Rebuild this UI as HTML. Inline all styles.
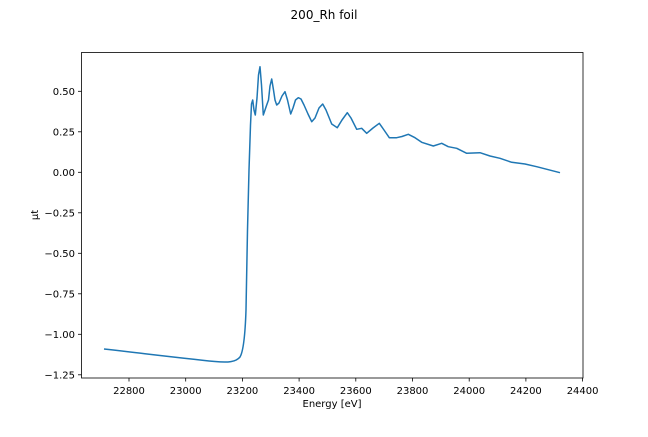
<!DOCTYPE html>
<html><head><meta charset="utf-8"><style>
html,body{margin:0;padding:0;background:#fff}
svg text{font-family:"DejaVu Sans","Liberation Sans",sans-serif;fill:#000}
</style></head><body>
<svg width="648" height="432" viewBox="0 0 648 432" xmlns="http://www.w3.org/2000/svg">
<rect width="648" height="432" fill="#fff"/>
<text x="324" y="19" font-size="12" text-anchor="middle">200_Rh foil</text>
<path fill="none" stroke="#1f77b4" stroke-width="1.5" stroke-linejoin="round"
d="M104,349 C140,353 180,358 215,361.5 C228,362.8 236,362 240,357 C243,352 245,340 246,310 L247.5,230 L249,170 L250.5,125 L251.5,104 L252.7,100 L254,110 L255.3,115 L257,98 L258.5,75 L260,66.7 L261.5,85 L263.3,115 L265,110 L266.7,105 L268.5,100 L270,86 L271.7,79 L273.5,90 L275,100 L276.7,105 L279,103 L282,96 L285,91.7 L287.5,100 L290.7,114 L293,108 L295.5,100 L298.3,97.7 L301,99 L304,105 L308,114 L311.7,121.7 L315,118 L319,108 L322.7,104 L326,110 L331.7,124 L337.3,127.7 L342,120 L347.3,112.7 L351,118 L356.7,129.3 L361.7,128.3 L366.7,133.3 L373,128 L379.3,123.3 L384,130 L389.3,137.7 L396.7,137.7 L402,136.5 L408.3,134.3 L415,137.7 L421.7,142.3 L433.3,146 L441.7,143.3 L448.3,146.7 L456.7,148.3 L466.7,153.3 L480,152.7 L490,156 L500,158.3 L511.7,162.3 L525,164 L536.7,166.7 L560,172.7"/>
<rect x="81.5" y="52.5" width="501.5" height="325.5" fill="none" stroke="#000" stroke-width="0.8"/>
<g stroke="#000" stroke-width="0.8">
<line x1="129" y1="378" x2="129" y2="381.5"/><line x1="185.7" y1="378" x2="185.7" y2="381.5"/><line x1="242.4" y1="378" x2="242.4" y2="381.5"/><line x1="299.1" y1="378" x2="299.1" y2="381.5"/><line x1="355.8" y1="378" x2="355.8" y2="381.5"/><line x1="412.5" y1="378" x2="412.5" y2="381.5"/><line x1="469.2" y1="378" x2="469.2" y2="381.5"/><line x1="525.9" y1="378" x2="525.9" y2="381.5"/><line x1="582.6" y1="378" x2="582.6" y2="381.5"/>
<line x1="78" y1="91.3" x2="81.5" y2="91.3"/><line x1="78" y1="131.8" x2="81.5" y2="131.8"/><line x1="78" y1="172.3" x2="81.5" y2="172.3"/><line x1="78" y1="212.8" x2="81.5" y2="212.8"/><line x1="78" y1="253.3" x2="81.5" y2="253.3"/><line x1="78" y1="293.8" x2="81.5" y2="293.8"/><line x1="78" y1="334.3" x2="81.5" y2="334.3"/><line x1="78" y1="374.8" x2="81.5" y2="374.8"/>
</g>
<g font-size="10" text-anchor="middle">
<text x="129" y="394">22800</text><text x="185.7" y="394">23000</text><text x="242.4" y="394">23200</text><text x="299.1" y="394">23400</text><text x="355.8" y="394">23600</text><text x="412.5" y="394">23800</text><text x="469.2" y="394">24000</text><text x="525.9" y="394">24200</text><text x="582.6" y="394">24400</text>
</g>
<g font-size="10" text-anchor="end">
<text x="75" y="95">0.50</text><text x="75" y="135.5">0.25</text><text x="75" y="176">0.00</text><text x="75" y="216.5">−0.25</text><text x="75" y="257">−0.50</text><text x="75" y="297.5">−0.75</text><text x="75" y="338">−1.00</text><text x="75" y="378.5">−1.25</text>
</g>
<text x="332" y="407" font-size="10" text-anchor="middle">Energy [eV]</text>
<text x="0" y="0" font-size="10" text-anchor="middle" transform="translate(38,215) rotate(-90)">μt</text>
</svg>
</body></html>
